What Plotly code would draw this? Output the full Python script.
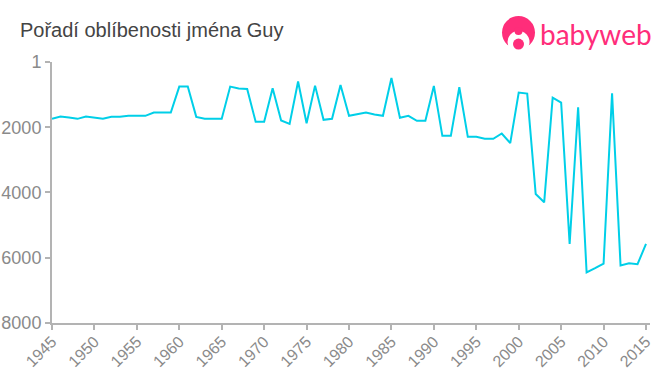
import plotly.graph_objects as go

years = list(range(1945, 2016))
ranks = [1743, 1672, 1702, 1743, 1672, 1712, 1743, 1682, 1682, 1651,
         1651, 1651, 1549, 1549, 1549, 755, 755, 1682, 1743, 1743,
         1743, 755, 816, 825, 1835, 1835, 805, 1794, 1896, 600,
         1876, 725, 1774, 1743, 703, 1651, 1600, 1549, 1610, 1651,
         490, 1712, 1651, 1804, 1804, 734, 2263, 2263, 775, 2294,
         2294, 2355, 2355, 2192, 2488, 938, 969, 4047, 4301, 1091,
         1244, 5576, 1386, 6452, 6320, 6177, 958, 6238, 6167, 6198,
         5576]
x_ticks = list(range(1945, 2016, 5))
y_ticks = [1, 2000, 4000, 6000, 8000]
title_text = "Pořadí oblíbenosti jména Guy"
brand = "babyweb"

L, R, T, B = 52, 650, 62, 323.5
px = lambda v: (v - L) / (R - L)
py = lambda v: (B - v) / (B - T)
PINK = "#ff2d7a"
GREY = "#8a8a8a"


def circle(cx, cy, r, color):
    return dict(type="circle", xref="paper", yref="paper", layer="above",
                x0=px(cx - r), x1=px(cx + r), y0=py(cy + r), y1=py(cy - r),
                fillcolor=color, line_width=0)


shapes = [
    circle(518.5, 32.5, 16.5, PINK),
    circle(518.5, 42, 11, "white"),
    circle(518.5, 31, 4, PINK),
    circle(518.5, 44, 5.5, PINK),
]

fig = go.Figure()
fig.add_trace(go.Scatter(x=years, y=ranks, mode="lines", hoverinfo="skip",
                         line=dict(color="#00cfe8", width=2, shape="linear")))
fig.update_layout(
    width=660, height=375, autosize=False,
    margin=dict(l=L, r=660 - R, t=T, b=375 - B, pad=0),
    paper_bgcolor="white", plot_bgcolor="white", showlegend=False,
    font=dict(family="Liberation Sans, Arial, sans-serif", color=GREY),
    shapes=shapes,
    title=dict(text=title_text, xref="container", yref="container",
               x=20 / 660, y=1 - 30 / 375, xanchor="left", yanchor="middle",
               font=dict(size=20, color="#444444")),
    annotations=[
        dict(text=brand, xref="paper", yref="paper", x=px(538), y=py(34),
             xanchor="left", yanchor="middle", showarrow=False,
             font=dict(size=28, color=PINK, family="Lato, sans-serif")),
    ],
)
fig.update_xaxes(range=[1945, 2015.47], tickvals=x_ticks, ticks="outside", ticklen=5,
                 tickcolor="#b3b3b3", tickwidth=2, showline=True, linecolor="#b3b3b3",
                 linewidth=2, showgrid=False, zeroline=False, tickangle=-45,
                 ticklabelstandoff=-4, automargin=False,
                 tickfont=dict(size=16, color=GREY))
fig.update_yaxes(range=[8000, 1], tickvals=y_ticks, ticks="outside", ticklen=5,
                 tickcolor="#b3b3b3", tickwidth=2, showline=True, linecolor="#b3b3b3",
                 linewidth=2, showgrid=False, zeroline=False,
                 automargin=False, tickfont=dict(size=18, color=GREY))
fig.write_html("out.html", config={"displayModeBar": False},
               post_script="document.body.style.margin='0';")
